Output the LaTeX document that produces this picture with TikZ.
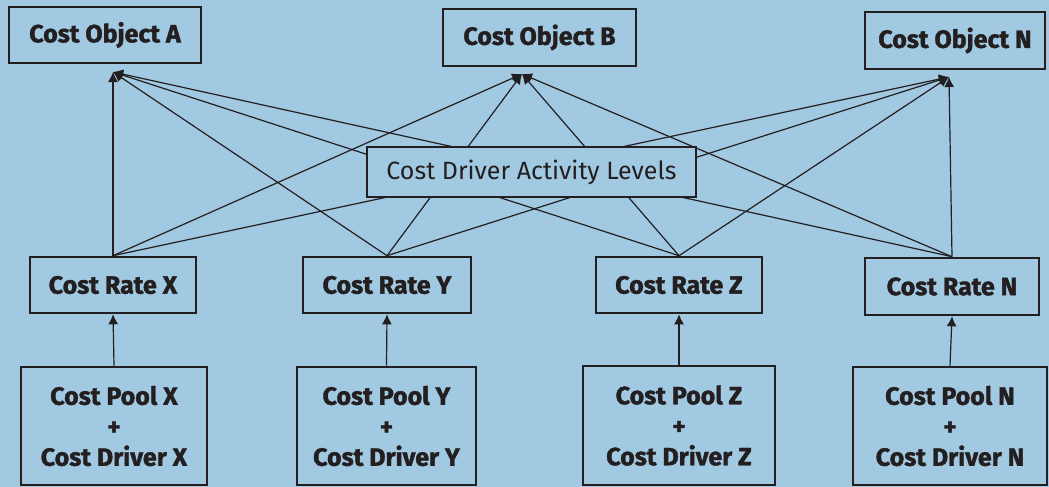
\documentclass[tikz,border=0pt]{standalone}
\usepackage{fontspec}
\setmainfont{Fira Sans}
\newfontfamily\heavysans{Fira Sans}[BoldFeatures={FakeBold=1.5}]
\usetikzlibrary{arrows.meta}
\definecolor{bgblue}{RGB}{161,201,226}
\definecolor{ink}{RGB}{35,31,32}
\tikzset{
  box/.style={draw=ink,line width=2.6pt,fill=bgblue,inner sep=0pt,align=center,text=ink},
  boldbox/.style={box,font=\fontsize{25}{30.5}\selectfont\heavysans\bfseries},
  link/.style={ink,line width=1.2pt,-{Latex[length=10pt,width=10pt]}},
}
\begin{document}
\begin{tikzpicture}[x=1pt,y=-1pt]
   \fill [bgblue] (0,0) rectangle (1049,487);
   \useasboundingbox (0,0) rectangle (1049,487);
   \node [boldbox,minimum width=192pt,minimum height=56pt] (objA) at (105,35) {Cost Object A};
   \node [boldbox,minimum width=193pt,minimum height=57pt] (objB) at (539.5,37.5) {Cost Object B};
   \node [boldbox,minimum width=180pt,minimum height=57pt] (objN) at (955,40.5) {Cost Object N};
   \coordinate (tA) at (113,72);
   \coordinate (tB) at (522,74);
   \coordinate (tN) at (949,77);
   \node [boldbox,minimum width=166pt,minimum height=56pt] (rateX) at (113,285) {Cost Rate X};
   \node [boldbox,minimum width=168pt,minimum height=56pt] (rateY) at (387,285) {Cost Rate Y};
   \node [boldbox,minimum width=166pt,minimum height=56pt] (rateZ) at (679,285) {Cost Rate Z};
   \node [boldbox,minimum width=174pt,minimum height=57pt] (rateN) at (952,286.5) {Cost Rate N};
   \node [boldbox,minimum width=186pt,minimum height=118pt] (poolX) at (114,426) {Cost Pool X\\+\\Cost Driver X};
   \node [boldbox,minimum width=179pt,minimum height=118pt] (poolY) at (386.5,426) {Cost Pool Y\\+\\Cost Driver Y};
   \node [boldbox,minimum width=192pt,minimum height=119pt] (poolZ) at (679,425.5) {Cost Pool Z\\+\\Cost Driver Z};
   \node [boldbox,minimum width=194pt,minimum height=118pt] (poolN) at (950,426) {Cost Pool N\\+\\Cost Driver N};
   \foreach \r in {X,Y,Z,N} {
     \draw [link] (pool\r.north) -- (rate\r.south);
     \foreach \t in {A,B,N}
       \draw [link] (rate\r.north) -- (t\t);
   }
   \node [box,minimum width=329pt,minimum height=50pt,font=\fontsize{25}{29}\selectfont] (drv) at (531.5,172) {Cost Driver Activity Levels};
  \end{tikzpicture}
\end{document}
